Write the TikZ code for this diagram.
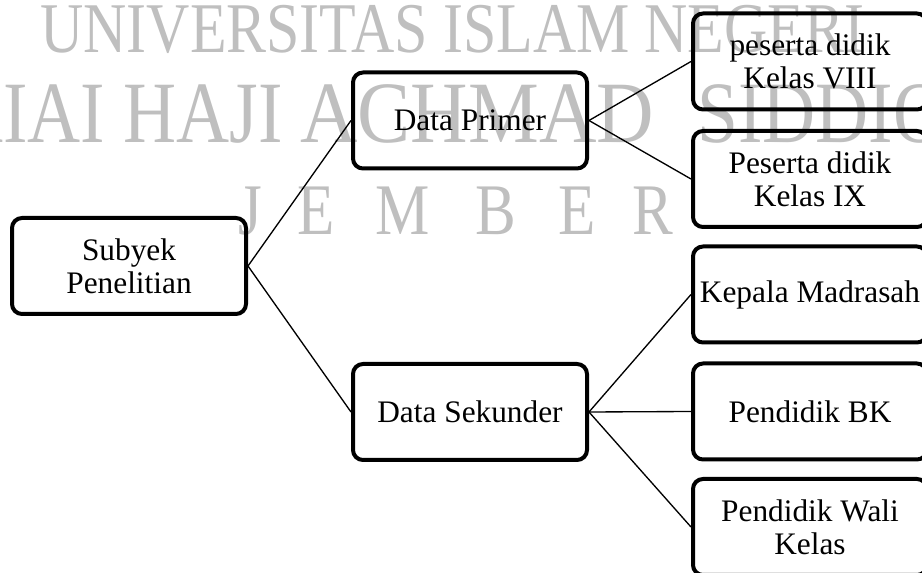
\documentclass[tikz,border=0pt]{standalone}
\usepackage{fontspec}
\setmainfont{Liberation Serif}
\newfontfamily\wmfont[FakeStretch=0.84]{Liberation Serif}
\newfontfamily\wmfontwide[FakeStretch=0.91]{Liberation Serif}
\begin{document}
\begin{tikzpicture}[x=0.75pt,y=-0.75pt,
  wm/.style={text=black!25, inner sep=0pt},
  wmA/.style={wm, font=\wmfont\fontsize{53.5}{60}\selectfont},
  wmB/.style={wm, font=\wmfont\fontsize{65.6}{72}\selectfont},
  wmBw/.style={wm, font=\wmfontwide\fontsize{65.6}{72}\selectfont},
  wmC/.style={wm, font=\wmfont\fontsize{54.5}{60}\selectfont},
  box/.style={draw, line width=3pt, rounded corners=7.5pt,
    minimum width=175.5pt, minimum height=72pt, inner sep=0pt,
    align=center, font=\fontsize{23.5}{25}\selectfont},
  link/.style={line width=1pt}]
\useasboundingbox (0,0) rectangle (922,573);
\clip (0,0) rectangle (922,573);

% watermark
\node[wmA, anchor=base west] (w1) at (40,53) {UNIVERSITAS ISLAM NEGERI};
\node[wmB, anchor=base west] (w2a) at (-50,143) {KIAI HAJI};
\node[wmBw, anchor=base west] (w2b) at (300,143) {ACHMAD};
\node[wmB, anchor=base west] (w2c) at (697,143) {SIDDIQ};
\foreach \ch/\cx [count=\i] in {J/250, E/316, M/403, B/496, E/577, R/653}
  \node[wmC, anchor=base] (w3-\i) at (\cx,235) {\ch};

% boxes
\node[box] (subjek) at (129,266) {Subyek\\Penelitian};
\node[box] (primer) at (470,120.5) {Data Primer};
\node[box] (sekunder) at (470,412) {Data Sekunder};
\node[box] (p8) at (810,61.5) {peserta didik\\Kelas VIII};
\node[box] (p9) at (810,179) {Peserta didik\\Kelas IX};
\node[box] (kepala) at (810,294.5) {Kepala Madrasah};
\node[box] (bk) at (810,411.5) {Pendidik BK};
\node[box] (wali) at (810,527) {Pendidik Wali\\Kelas};

% connectors
\draw[link] (subjek.east) -- (primer.west);
\draw[link] (subjek.east) -- (sekunder.west);
\draw[link] (primer.east) -- (p8.west);
\draw[link] (primer.east) -- (p9.west);
\draw[link] (sekunder.east) -- (kepala.west);
\draw[link] (sekunder.east) -- (bk.west);
\draw[link] (sekunder.east) -- (wali.west);
\end{tikzpicture}
\end{document}
